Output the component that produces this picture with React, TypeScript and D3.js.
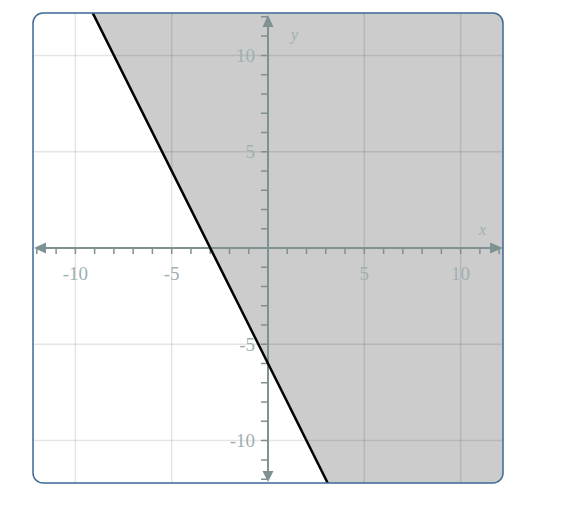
import React from "react";
import * as d3 from "d3";

// ---- data ----
const domainMin = -12.2;
const domainMax = 12.2;
const xLabelTicks = [-10, -5, 5, 10];
const yLabelTicks = [-10, -5, 5, 10];
const gridTicks = [-10, -5, 5, 10];
const minorTicks = [-12, -11, -10, -9, -8, -7, -6, -5, -4, -3, -2, -1, 1, 2, 3, 4, 5, 6, 7, 8, 9, 10, 11, 12];
// boundary line through these two points: y = -2x - 6 (shaded side: y >= line)
const boundaryPoints: [number, number][] = [[-3, 0], [0, -6]];
const axisNames = ["x", "y"];

const W = 576;
const H = 513;
const L = 33, R = 503, T = 13, B = 483;

export default function App() {
  const x = d3.scaleLinear().domain([domainMin, domainMax]).range([L, R]);
  const y = d3.scaleLinear().domain([domainMin, domainMax]).range([B, T]);

  const [[x1, y1], [x2, y2]] = boundaryPoints;
  const slope = (y2 - y1) / (x2 - x1);
  const intercept = y1 - slope * x1;
  const xAt = (yy: number) => (yy - intercept) / slope;
  const topX = xAt(domainMax);
  const botX = xAt(domainMin);

  const lineGen = d3.line<[number, number]>().x(d => x(d[0])).y(d => y(d[1]));
  const boundary: [number, number][] = [[topX, domainMax], [botX, domainMin]];
  const shade: [number, number][] = [
    [topX, domainMax],
    [domainMax, domainMax],
    [domainMax, domainMin],
    [botX, domainMin],
  ];

  const axisColor = "#7f9191";
  const labelColor = "#9fb0b0";
  const font = "'Liberation Serif', 'DejaVu Serif', serif";
  const x0 = x(0);
  const y0 = y(0);

  return (
    <svg width={W} height={H} style={{ position: "absolute", left: 0, top: 0 }}>
      <defs>
        <clipPath id="frameClip">
          <rect x={L} y={T} width={R - L} height={B - T} rx={10} ry={10} />
        </clipPath>
      </defs>
      <rect x={0} y={0} width={W} height={H} fill="#fff" />
      <g clipPath="url(#frameClip)">
        <rect x={L} y={T} width={R - L} height={B - T} fill="#fff" />
        <path d={lineGen(shade)! + "Z"} fill="#cccccc" />
        {gridTicks.map(t => (
          <g key={"g" + t}>
            <line x1={x(t)} x2={x(t)} y1={T} y2={B} stroke="rgba(0,0,0,0.1)" strokeWidth={1.5} />
            <line x1={L} x2={R} y1={y(t)} y2={y(t)} stroke="rgba(0,0,0,0.1)" strokeWidth={1.5} />
          </g>
        ))}
        {/* axes */}
        <line x1={L + 12} x2={R - 12} y1={y0} y2={y0} stroke={axisColor} strokeWidth={2} />
        <line x1={x0} x2={x0} y1={T + 13} y2={B - 11} stroke={axisColor} strokeWidth={2} />
        {minorTicks.map(t => (
          <g key={"t" + t}>
            <line x1={x(t)} x2={x(t)} y1={y0} y2={y0 + 6} stroke={axisColor} strokeWidth={1.5} />
            <line x1={x0 - 7} x2={x0} y1={y(t)} y2={y(t)} stroke={axisColor} strokeWidth={1.5} />
          </g>
        ))}
        {/* arrows */}
        <path d={`M${L + 1},${y0} L${L + 13},${y0 - 5.5} L${L + 13},${y0 + 5.5}Z`} fill={axisColor} />
        <path d={`M${R},${y0} L${R - 13},${y0 - 5.5} L${R - 13},${y0 + 5.5}Z`} fill={axisColor} />
        <path d={`M${x0},${T + 2} L${x0 - 5.5},${T + 14} L${x0 + 5.5},${T + 14}Z`} fill={axisColor} />
        <path d={`M${x0},${B - 1} L${x0 - 5.5},${B - 12} L${x0 + 5.5},${B - 12}Z`} fill={axisColor} />
        {/* tick labels */}
        {xLabelTicks.map(t => (
          <text key={"xl" + t} x={x(t)} y={y0 + 32} textAnchor="middle" fontFamily={font} fontSize={19} fill={labelColor}>
            {t < 0 ? "-" + Math.abs(t) : String(t)}
          </text>
        ))}
        {yLabelTicks.map(t => (
          <text key={"yl" + t} x={x0 - 13} y={y(t) + 6.5} textAnchor="end" fontFamily={font} fontSize={19} fill={labelColor}>
            {t < 0 ? "-" + Math.abs(t) : String(t)}
          </text>
        ))}
        <text x={482.5} y={235} textAnchor="middle" fontFamily={font} fontStyle="italic" fontSize={16} fill={labelColor}>
          {axisNames[0]}
        </text>
        <text x={294.5} y={40} textAnchor="middle" fontFamily={font} fontStyle="italic" fontSize={16} fill={labelColor}>
          {axisNames[1]}
        </text>
        {/* boundary */}
        <path d={lineGen(boundary)!} fill="none" stroke="#000" strokeWidth={2.5} />
      </g>
      <rect x={L} y={T} width={R - L} height={B - T} rx={10} ry={10} fill="none" stroke="#3d6994" strokeWidth={1.5} />
    </svg>
  );
}
